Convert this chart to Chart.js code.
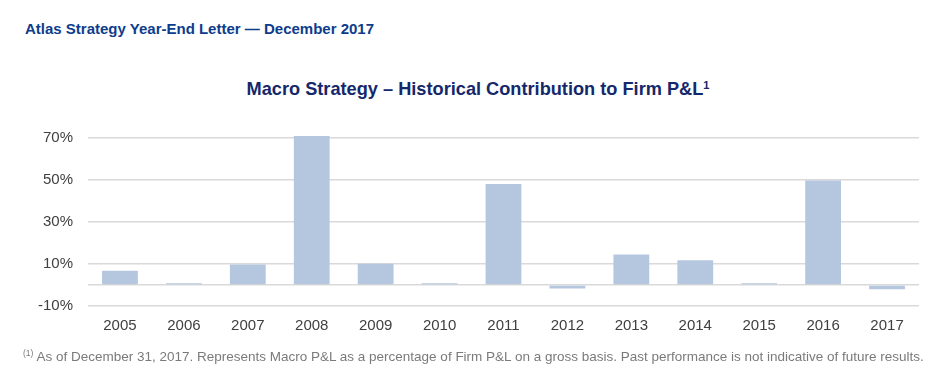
<!DOCTYPE html>
<html>
<head>
<meta charset="utf-8">
<script src="https://cdn.jsdelivr.net/npm/chart.js@4/dist/chart.umd.min.js"></script>
<style>
  html, body { margin: 0; padding: 0; background: #fff; }
  body { width: 939px; height: 379px; position: relative; overflow: hidden; font-family: "Liberation Sans", Arial, sans-serif; }
  #hdr { position: absolute; left: 25px; top: 20px; font-size: 15px; font-weight: bold; color: #0E3C8C; white-space: nowrap; }
  #ttl { position: absolute; left: 0; width: 956px; top: 79px; text-align: center; font-size: 18.2px; font-weight: bold; color: #14286B; white-space: nowrap; }
  #ttl sup { font-size: 11px; vertical-align: 6px; line-height: 0; }
  #foot { position: absolute; left: 23px; top: 349px; font-size: 13.5px; color: #7A7A7A; white-space: nowrap; }
  #foot sup { font-size: 8.5px; vertical-align: 5px; line-height: 0; }
  #wrap { position: absolute; left: 0; top: 110px; width: 939px; height: 240px; }
</style>
</head>
<body>
<div id="hdr">Atlas Strategy Year-End Letter — December 2017</div>
<div id="ttl">Macro Strategy – Historical Contribution to Firm P&amp;L<sup>1</sup></div>
<div id="wrap"><canvas id="c"></canvas></div>
<div id="foot"><sup>(1)</sup> As of December 31, 2017. Represents Macro P&amp;L as a percentage of Firm P&amp;L on a gross basis. Past performance is not indicative of future results.</div>
<script>
const years = ["2005","2006","2007","2008","2009","2010","2011","2012","2013","2014","2015","2016","2017"];
const macroContribution = [6.8, 0.8, 9.8, 71.0, 10.2, 0.9, 48.2, -1.7, 14.5, 11.8, 0.9, 49.8, -2.0];
const yTickValues = [-10, 10, 30, 50, 70];

new Chart(document.getElementById('c'), {
  type: 'bar',
  data: {
    labels: years,
    datasets: [{
      data: macroContribution,
      backgroundColor: '#B5C7DF',
      borderWidth: 0,
      categoryPercentage: 1.0,
      barPercentage: 0.56
    }]
  },
  options: {
    responsive: true,
    maintainAspectRatio: false,
    animation: false,
    layout: { padding: { top: 22.7, right: 20, bottom: 0, left: 0 } },
    plugins: { legend: { display: false }, tooltip: { enabled: false }, title: { display: false } },
    scales: {
      x: {
        grid: { display: false, drawTicks: false },
        border: { display: false },
        ticks: { color: '#404040', font: { family: 'Liberation Sans', size: 15 }, padding: 11, maxRotation: 0 },
        afterFit: s => { s.height = 44; }
      },
      y: {
        min: -10,
        max: 72,
        afterBuildTicks: s => { s.ticks = [-10, 0, 10, 30, 50, 70].map(v => ({ value: v })); },
        grid: { color: '#D9D9D9', lineWidth: 1.5, drawTicks: false },
        border: { display: false },
        ticks: {
          color: '#404040',
          font: { family: 'Liberation Sans', size: 15 },
          padding: 15,
          callback: v => yTickValues.includes(v) ? v + '%' : ''
        },
        afterFit: s => { s.width = 88; }
      }
    }
  }
});
</script>
</body>
</html>
